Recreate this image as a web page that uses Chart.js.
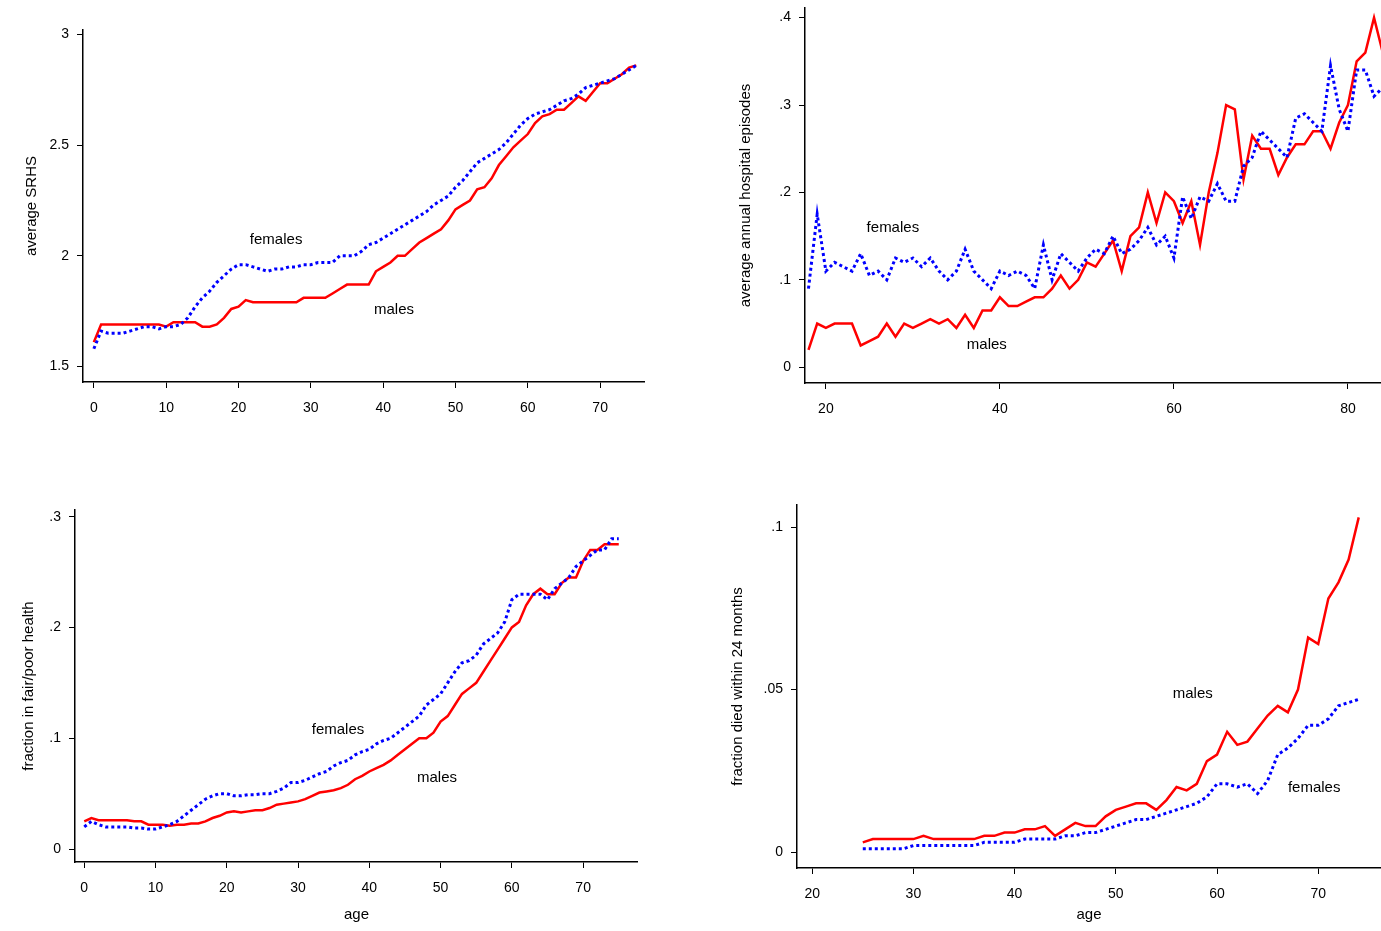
<!DOCTYPE html>
<html><head><meta charset="utf-8">
<script src="https://cdn.jsdelivr.net/npm/chart.js"></script>
<style>body{margin:0;background:#fff;width:1381px;height:931px;overflow:hidden;position:relative}canvas{position:absolute}</style>
</head><body>
<canvas id="c1"></canvas><canvas id="c2"></canvas><canvas id="c3"></canvas><canvas id="c4"></canvas>
<script>
// ---- data ----
const ages1 = Array.from({length: 76}, (_, i) => i);
const srhsMales = [1.61,1.69,1.69,1.69,1.69,1.69,1.69,1.69,1.69,1.69,1.68,1.70,1.70,1.70,1.70,1.68,1.68,1.69,1.72,1.76,1.77,1.80,1.79,1.79,1.79,1.79,1.79,1.79,1.79,1.81,1.81,1.81,1.81,1.83,1.85,1.87,1.87,1.87,1.87,1.93,1.95,1.97,2.00,2.00,2.03,2.06,2.08,2.10,2.12,2.16,2.21,2.23,2.25,2.30,2.31,2.35,2.41,2.45,2.49,2.52,2.55,2.60,2.63,2.64,2.66,2.66,2.69,2.72,2.70,2.74,2.78,2.78,2.80,2.82,2.85,2.86];
const srhsFemales = [1.58,1.66,1.65,1.65,1.65,1.66,1.67,1.68,1.68,1.67,1.68,1.68,1.69,1.72,1.77,1.81,1.84,1.88,1.91,1.94,1.96,1.96,1.95,1.94,1.93,1.94,1.94,1.95,1.95,1.96,1.96,1.97,1.97,1.97,2.00,2.00,2.00,2.02,2.05,2.06,2.08,2.10,2.12,2.14,2.16,2.18,2.20,2.23,2.25,2.27,2.31,2.34,2.38,2.42,2.44,2.46,2.48,2.51,2.55,2.59,2.62,2.64,2.65,2.66,2.68,2.70,2.71,2.73,2.76,2.77,2.78,2.79,2.80,2.82,2.84,2.86];

const ages2 = Array.from({length: 67}, (_, i) => i + 18);
const hospMales = [.02,.05,.045,.05,.05,.05,.025,.03,.035,.05,.035,.05,.045,.05,.055,.05,.055,.045,.06,.045,.065,.065,.08,.07,.07,.075,.08,.08,.09,.105,.09,.10,.12,.115,.13,.145,.11,.15,.16,.20,.165,.20,.19,.165,.19,.14,.20,.245,.30,.295,.215,.265,.25,.25,.22,.24,.255,.255,.27,.27,.25,.28,.30,.35,.36,.40,.36];
const hospFemales = [.09,.175,.11,.12,.115,.11,.13,.105,.11,.10,.125,.12,.125,.115,.125,.11,.10,.11,.135,.11,.10,.09,.11,.105,.11,.105,.09,.14,.10,.13,.12,.11,.125,.135,.13,.15,.13,.135,.145,.16,.14,.15,.125,.195,.17,.195,.19,.21,.19,.19,.23,.24,.27,.26,.25,.24,.285,.29,.28,.27,.345,.295,.27,.34,.34,.31,.32];

const ages3 = ages1;
const poorMales = [.025,.028,.026,.026,.026,.026,.026,.025,.025,.022,.022,.022,.021,.022,.022,.023,.023,.025,.028,.030,.033,.034,.033,.034,.035,.035,.037,.040,.041,.042,.043,.045,.048,.051,.052,.053,.055,.058,.063,.066,.070,.073,.076,.080,.085,.090,.095,.100,.100,.105,.115,.120,.130,.140,.145,.150,.160,.170,.180,.190,.200,.205,.220,.230,.235,.230,.230,.240,.245,.245,.260,.270,.270,.275,.275,.275];
const poorFemales = [.020,.025,.022,.020,.020,.020,.020,.019,.019,.018,.018,.020,.022,.025,.030,.035,.040,.045,.048,.050,.050,.048,.048,.049,.049,.050,.050,.052,.055,.060,.060,.062,.065,.068,.070,.075,.078,.080,.085,.088,.090,.095,.098,.100,.105,.110,.115,.120,.130,.135,.140,.150,.160,.168,.170,.175,.185,.190,.195,.205,.225,.230,.230,.230,.230,.225,.235,.240,.245,.255,.260,.265,.270,.270,.280,.280];

const ages4 = Array.from({length: 50}, (_, i) => i + 25);
const diedMales = [.003,.004,.004,.004,.004,.004,.005,.004,.004,.004,.004,.004,.005,.005,.006,.006,.007,.007,.008,.005,.007,.009,.008,.008,.011,.013,.014,.015,.015,.013,.016,.020,.019,.021,.028,.030,.037,.033,.034,.038,.042,.045,.043,.050,.066,.064,.078,.083,.090,.103];
const diedFemales = [.001,.001,.001,.001,.001,.002,.002,.002,.002,.002,.002,.002,.003,.003,.003,.003,.004,.004,.004,.004,.005,.005,.006,.006,.007,.008,.009,.010,.010,.011,.012,.013,.014,.015,.017,.021,.021,.020,.021,.018,.022,.030,.032,.035,.039,.039,.041,.045,.046,.047];

// ---- panels ----
const panels = [
  {id:'c1', axisX:83, top:30, right:645, bottom:382, yw:60, xh:44, xmin:-1.5, xmax:76.2, ymin:1.43, ymax:3.02,
   xt:[0,10,20,30,40,50,60,70], yt:[1.5,2,2.5,3], yfmt:v=>String(v), ytitle:'average SRHS', xtitle:'',
   ages:ages1, m:srhsMales, f:srhsFemales, lab:[['females',25.2,2.07],['males',41.5,1.756]]},
  {id:'c2', axisX:805, top:8, right:1381, bottom:383, yw:68, xh:44, xmin:17.6, xmax:83.8, ymin:-0.018, ymax:0.411,
   xt:[20,40,60,80], yt:[0,.1,.2,.3,.4], yfmt:v=>v===0?'0':String(v).replace('0.','.'), ytitle:'average annual hospital episodes', xtitle:'',
   ages:ages2, m:hospMales, f:hospFemales, lab:[['females',27.7,.159],['males',38.5,.026]]},
  {id:'c3', axisX:75, top:510, right:638, bottom:862, yw:55, xh:66, xmin:-1.3, xmax:77.7, ymin:-0.0117, ymax:0.306,
   xt:[0,10,20,30,40,50,60,70], yt:[0,.1,.2,.3], yfmt:v=>v===0?'0':String(v).replace('0.','.'), ytitle:'fraction in fair/poor health', xtitle:'age',
   ages:ages3, m:poorMales, f:poorFemales, lab:[['females',35.6,.108],['males',49.5,.064]]},
  {id:'c4', axisX:797, top:505, right:1381, bottom:868, yw:68, xh:60, xmin:18.5, xmax:76.2, ymin:-0.0049, ymax:0.1068,
   xt:[20,30,40,50,60,70], yt:[0,.05,.1], yfmt:v=>v===0?'0':String(v).replace('0.','.'), ytitle:'fraction died within 24 months', xtitle:'age',
   ages:ages4, m:diedMales, f:diedFemales, lab:[['males',57.6,.0486],['females',69.6,.0197]]}
];

const font = {family:'Arial, "Liberation Sans", sans-serif', size:14};
const PADT = 20;

const labelPlugin = {
  id:'labels',
  afterDatasetsDraw(chart, args, opts) {
    const ctx = chart.ctx, xs = chart.scales.x, ys = chart.scales.y;
    ctx.save();
    ctx.font = '15px Arial, "Liberation Sans", sans-serif';
    ctx.fillStyle = '#000'; ctx.textAlign = 'center'; ctx.textBaseline = 'middle';
    opts.items.forEach(([t, x, y]) => ctx.fillText(t, xs.getPixelForValue(x), ys.getPixelForValue(y)));
    ctx.restore();
  }
};

panels.forEach(p => {
  const cv = document.getElementById(p.id);
  const left = p.axisX - p.yw;
  const w = p.right - left, h = p.bottom - p.top + p.xh + PADT;
  cv.style.left = left + 'px'; cv.style.top = (p.top - PADT) + 'px';
  cv.width = w; cv.height = h;
  new Chart(cv, {
    type:'line',
    data:{datasets:[
      {data:p.ages.map((a,i)=>({x:a,y:p.f[i]})), borderColor:'#0000ff', borderWidth:3, borderDash:[3,3], pointRadius:0, tension:0},
      {data:p.ages.map((a,i)=>({x:a,y:p.m[i]})), borderColor:'#ff0000', borderWidth:2.5, pointRadius:0, tension:0}
    ]},
    options:{
      responsive:false, animation:false, devicePixelRatio:1,
      layout:{padding:{top:PADT, left:0, right:0, bottom:0}},
      plugins:{legend:{display:false}, tooltip:{enabled:false}, labels:{items:p.lab}},
      scales:{
        x:{type:'linear', min:p.xmin, max:p.xmax,
           afterBuildTicks:s=>{s.ticks=p.xt.map(v=>({value:v}));},
           afterFit:s=>{s.height=p.xh;},
           grid:{drawOnChartArea:false, tickLength:6, color:'#000'},
           border:{color:'#000', width:1.5},
           ticks:{color:'#000', font, maxRotation:0, autoSkip:false, padding:12, callback:v=>String(v)},
           title:{display:!!p.xtitle, text:p.xtitle, color:'#000', font:{...font, size:15}, padding:{top:0}}},
        y:{type:'linear', min:p.ymin, max:p.ymax,
           afterBuildTicks:s=>{s.ticks=p.yt.map(v=>({value:v}));},
           afterFit:s=>{s.width=p.yw;},
           grid:{drawOnChartArea:false, tickLength:6, color:'#000'},
           border:{color:'#000', width:1.5},
           ticks:{color:'#000', font, autoSkip:false, padding:8, callback:v=>p.yfmt(v)},
           title:{display:true, text:p.ytitle, color:'#000', font:{...font, size:15}, padding:0}}
      }
    },
    plugins:[labelPlugin]
  });
});
</script>
</body></html>
